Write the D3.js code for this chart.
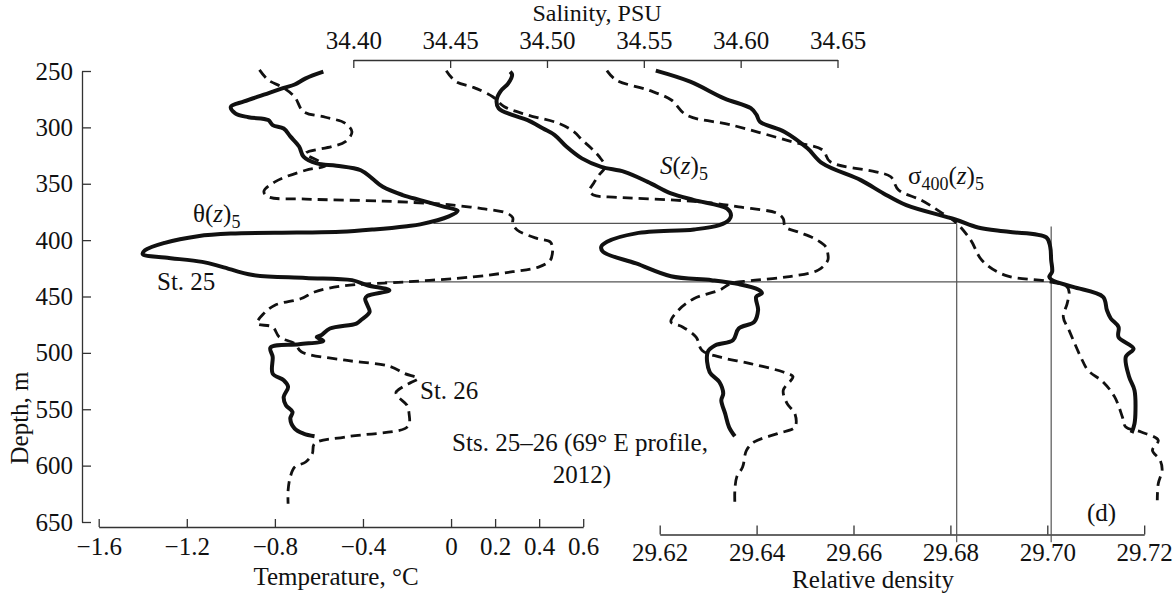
<!DOCTYPE html>
<html>
<head>
<meta charset="utf-8">
<script src="https://cdn.jsdelivr.net/npm/d3@7"></script>
<style>
  body { margin: 0; background: #fff; }
  svg text { font-family: "Liberation Serif", "Times New Roman", serif; fill: #111; }
  .axis path, .axis line { stroke: #333; stroke-width: 1.3; }
  .axis text { font-size: 25px; font-family: "Liberation Serif", serif; fill: #111; }
</style>
</head>
<body>
<svg id="chart"></svg>
<script>
// profiles: [depth (m), value]
const theta25 = [[250.6,-0.58],[256.5,-0.66],[262,-0.71],[265,-0.76],[271,-0.85],[277,-0.94],[281.7,-1.00],[287.5,-0.98],[291,-0.92],[293.5,-0.83],[298,-0.81],[301,-0.76],[308,-0.73],[317,-0.69],[326,-0.67],[332,-0.61],[334,-0.52],[338,-0.41],[345,-0.36],[352.7,-0.31],[360,-0.22],[364.5,-0.14],[370.5,-0.03],[374,0.03],[379,-0.01],[386,-0.14],[387.6,-0.2],[390.5,-0.35],[392.6,-0.5],[393.3,-0.7],[394.2,-1.0],[396.5,-1.15],[402.4,-1.30],[409,-1.39],[412.4,-1.40],[415.4,-1.30],[419.3,-1.13],[423.7,-1.04],[431,-0.90],[433.5,-0.66],[435.5,-0.45],[440,-0.38],[444.5,-0.28],[449.5,-0.38],[452,-0.39],[457.7,-0.38],[463.7,-0.37],[471,-0.41],[474,-0.43],[478.4,-0.55],[484.4,-0.59],[486,-0.61],[489.4,-0.58],[492.3,-0.69],[495.3,-0.82],[503.6,-0.81],[518.4,-0.81],[524.3,-0.76],[530.2,-0.74],[539,-0.76],[546.5,-0.75],[552.4,-0.72],[558.3,-0.73],[567.2,-0.71],[571.6,-0.67],[574,-0.62]];
const theta26 = [[249,-0.87],[258,-0.83],[265,-0.76],[273,-0.71],[286,-0.67],[291,-0.57],[296.4,-0.48],[304,-0.45],[312.7,-0.48],[317,-0.54],[323,-0.66],[330,-0.60],[334,-0.57],[338,-0.66],[348.3,-0.80],[357,-0.85],[361.6,-0.83],[363.6,-0.66],[365.4,-0.31],[368,-0.05],[369,0.01],[372,0.14],[375.8,0.25],[380,0.28],[385.2,0.28],[391,0.30],[398.5,0.39],[401.5,0.45],[406,0.46],[411.8,0.46],[418,0.45],[423.7,0.40],[428,0.28],[432.6,0.10],[437,-0.20],[440.8,-0.50],[446,-0.62],[451.8,-0.68],[457.7,-0.80],[465,-0.85],[474,-0.88],[477,-0.81],[486,-0.78],[491.7,-0.71],[499,-0.68],[506.5,-0.48],[511.9,-0.28],[518.4,-0.21],[522.8,-0.15],[526,-0.18],[530.2,-0.22],[535,-0.25],[539,-0.24],[546.5,-0.20],[555,-0.19],[562.7,-0.19],[567.2,-0.21],[574.6,-0.48],[580.5,-0.62],[589.4,-0.63],[596.8,-0.66],[601.3,-0.71],[610,-0.73],[622,-0.74],[633.8,-0.74]];
const sal25 = [[250.6,34.481],[253.5,34.482],[261,34.480],[268,34.476],[275.7,34.474],[283,34.475],[289,34.482],[293.5,34.490],[301,34.498],[306.8,34.504],[317,34.510],[327.5,34.518],[335,34.528],[339.4,34.540],[348.3,34.552],[358.6,34.564],[364.5,34.576],[372,34.593],[377.8,34.595],[382,34.594],[386.7,34.589],[390.5,34.576],[394,34.546],[401.5,34.531],[406,34.528],[410.4,34.529],[420.7,34.546],[432,34.564],[435.5,34.585],[439,34.599],[443.8,34.609],[447,34.611],[450.3,34.608],[462,34.609],[472.5,34.607],[478.4,34.599],[488.8,34.596],[493.2,34.587],[499.2,34.583],[517,34.584],[525.8,34.589],[536,34.591],[542,34.590],[553.9,34.592],[565.8,34.594],[574,34.597]];
const sal26 = [[249.7,34.448],[259.5,34.453],[264.5,34.462],[272.8,34.472],[281.7,34.478],[289,34.490],[296.4,34.506],[304,34.514],[311,34.518],[318.7,34.523],[326,34.527],[335,34.530],[342,34.527],[349.7,34.524],[356,34.522],[360,34.524],[362,34.536],[364.5,34.566],[367,34.585],[370.5,34.599],[376.3,34.619],[381,34.622],[388.2,34.623],[393,34.630],[398.5,34.638],[406,34.644],[412,34.645],[417.8,34.645],[426.6,34.640],[432.6,34.624],[436,34.605],[438.5,34.595],[444.4,34.589],[451.8,34.576],[462,34.568],[472.5,34.564],[477,34.570],[486,34.577],[497.7,34.580],[503.6,34.589],[509.5,34.605],[517,34.622],[521,34.627],[524.3,34.626],[533.2,34.622],[545,34.624],[553.9,34.628],[565.8,34.628],[571.6,34.619],[579,34.607],[586.4,34.603],[601.3,34.601],[610,34.598],[622,34.597],[633.8,34.597]];
const dens25 = [[249.7,29.6192],[259.5,29.6263],[274.3,29.6333],[283,29.6388],[289,29.6400],[295,29.6407],[304,29.6458],[318.6,29.6505],[332,29.6536],[346.8,29.6615],[358.6,29.6662],[369,29.6709],[381.7,29.6810],[388.8,29.6857],[392.6,29.6920],[397.6,29.6998],[406,29.7006],[417.8,29.7008],[428,29.7010],[432.6,29.7004],[435.5,29.7010],[441.5,29.7053],[450.3,29.7115],[462,29.7123],[469.5,29.7131],[477,29.7147],[486,29.7147],[496.2,29.7178],[503.6,29.7162],[521.4,29.7169],[533.2,29.7180],[551,29.7182],[562.7,29.7180],[571,29.7174]];
const dens26 = [[249.7,29.6091],[258,29.6110],[267,29.6177],[275.7,29.6224],[289,29.6255],[298,29.6349],[312.8,29.6474],[320,29.6536],[330.5,29.6552],[339.4,29.6646],[343.8,29.6677],[355.6,29.6693],[364.5,29.6740],[374.9,29.6779],[383.8,29.6810],[400,29.6842],[417.8,29.6865],[431,29.6912],[436.4,29.6998],[441,29.7040],[446,29.7045],[456.3,29.7041],[468,29.7033],[480,29.7045],[503.6,29.7069],[515.4,29.7084],[525.8,29.7115],[539,29.7139],[556.9,29.7155],[565.8,29.7162],[570.2,29.7194],[577.6,29.7229],[586.4,29.7217],[595.3,29.7233],[604,29.7237],[616,29.7229],[630.8,29.7227]];

const depthTicks = [250, 300, 350, 400, 450, 500, 550, 600, 650];
const tempTicks = [-1.6, -1.2, -0.8, -0.4, 0, 0.2, 0.4, 0.6];
const salTicks = [34.40, 34.45, 34.50, 34.55, 34.60, 34.65];
const densTicks = [29.62, 29.64, 29.66, 29.68, 29.70, 29.72];

// thin guide lines: depth levels and density values
const refDepths = [385.2, 437];
const refTempStart = [-0.08, -0.30];
const refDens = [29.6813, 29.7008];

const W = 1175, H = 597;
const svg = d3.select("#chart").attr("width", W).attr("height", H);

const y = d3.scaleLinear().domain([250, 650]).range([71, 522]);
const xT = d3.scaleLinear().domain([-1.6, 0.6]).range([98.7, 583.2]);
const xS = d3.scaleLinear().domain([34.40, 34.65]).range([353.3, 837.5]);
const xD = d3.scaleLinear().domain([29.62, 29.72]).range([659.7, 1144.2]);

// axes
svg.append("g").attr("class", "axis")
    .attr("transform", "translate(82,0)")
    .call(d3.axisLeft(y).tickValues(depthTicks).tickSizeInner(-9).tickSizeOuter(0).tickPadding(9));

svg.append("g").attr("class", "axis")
    .attr("transform", "translate(0,527)")
    .call(d3.axisBottom(xT).tickValues(tempTicks).tickSizeInner(-8).tickSizeOuter(0).tickPadding(10)
        .tickFormat(d => d === 0 ? "0" : d3.format(".1f")(d)));

svg.append("g").attr("class", "axis")
    .attr("transform", "translate(0,534.5)")
    .call(d3.axisBottom(xD).tickValues(densTicks).tickSizeInner(-9).tickSizeOuter(0).tickPadding(9)
        .tickFormat(d3.format(".2f")));

svg.append("g").attr("class", "axis")
    .attr("transform", "translate(0,60)")
    .call(d3.axisTop(xS).tickValues(salTicks).tickSizeInner(-8).tickSizeOuter(0).tickPadding(11)
        .tickFormat(d3.format(".2f")));

// guide lines
const guides = svg.append("g").attr("stroke", "#555").attr("stroke-width", 1.2);
refDepths.forEach((d, i) => {
    guides.append("line")
        .attr("x1", xT(refTempStart[i])).attr("x2", xD(refDens[i]))
        .attr("y1", y(d)).attr("y2", y(d));
});
guides.append("line")
    .attr("x1", xD(refDens[0])).attr("x2", xD(refDens[0]))
    .attr("y1", y(refDepths[0])).attr("y2", y(668));
guides.append("line")
    .attr("x1", xD(refDens[1])).attr("x2", xD(refDens[1]))
    .attr("y1", y(388)).attr("y2", y(668));

// profiles
const profiles = [
    {data: theta25, x: xT, dash: null},
    {data: theta26, x: xT, dash: "10,6"},
    {data: sal25, x: xS, dash: null},
    {data: sal26, x: xS, dash: "10,6"},
    {data: dens25, x: xD, dash: null},
    {data: dens26, x: xD, dash: "10,6"}
];

profiles.forEach(p => {
    const line = d3.line()
        .x(d => p.x(d[1]))
        .y(d => y(d[0]))
        .curve(d3.curveCatmullRom.alpha(0.5));
    svg.append("path")
        .datum(p.data)
        .attr("d", line)
        .attr("fill", "none")
        .attr("stroke", "#111")
        .attr("stroke-width", p.dash ? 2.8 : 4)
        .attr("stroke-linejoin", "round")
        .attr("stroke-dasharray", p.dash);
});

// axis titles
svg.append("text").attr("x", 597).attr("y", 21).attr("text-anchor", "middle")
    .attr("font-size", 24).text("Salinity, PSU");
svg.append("text").attr("x", 336).attr("y", 585).attr("text-anchor", "middle")
    .attr("font-size", 25).text("Temperature, °C");
svg.append("text").attr("x", 873).attr("y", 588).attr("text-anchor", "middle")
    .attr("font-size", 25).text("Relative density");
svg.append("text").attr("transform", "translate(28,418) rotate(-90)").attr("text-anchor", "middle")
    .attr("font-size", 25).text("Depth, m");

// curve labels
function label(xp, yp, parts) {
    const t = svg.append("text").attr("x", xp).attr("y", yp).attr("font-size", 25);
    parts.forEach(p => {
        const s = t.append("tspan").text(p.t);
        if (p.i) s.attr("font-style", "italic");
        if (p.sub) s.attr("font-size", 18).attr("dy", 6);
        if (p.up) s.attr("dy", -6);
    });
}
label(193, 222, [{t: "θ("}, {t: "z", i: true}, {t: ")"}, {t: "5", sub: true}]);
label(660, 174, [{t: "S", i: true}, {t: "("}, {t: "z", i: true}, {t: ")"}, {t: "5", sub: true}]);
label(908, 184, [{t: "σ"}, {t: "400", sub: true}, {t: "(", up: true}, {t: "z", i: true}, {t: ")"}, {t: "5", sub: true}]);

svg.append("text").attr("x", 157).attr("y", 290).attr("font-size", 25).text("St. 25");
svg.append("text").attr("x", 420).attr("y", 399).attr("font-size", 25).text("St. 26");
svg.append("text").attr("x", 580).attr("y", 451).attr("text-anchor", "middle")
    .attr("font-size", 25).text("Sts. 25–26 (69° E profile,");
svg.append("text").attr("x", 582).attr("y", 483).attr("text-anchor", "middle")
    .attr("font-size", 25).text("2012)");
svg.append("text").attr("x", 1087).attr("y", 521).attr("font-size", 25).text("(d)");
</script>
</body>
</html>
